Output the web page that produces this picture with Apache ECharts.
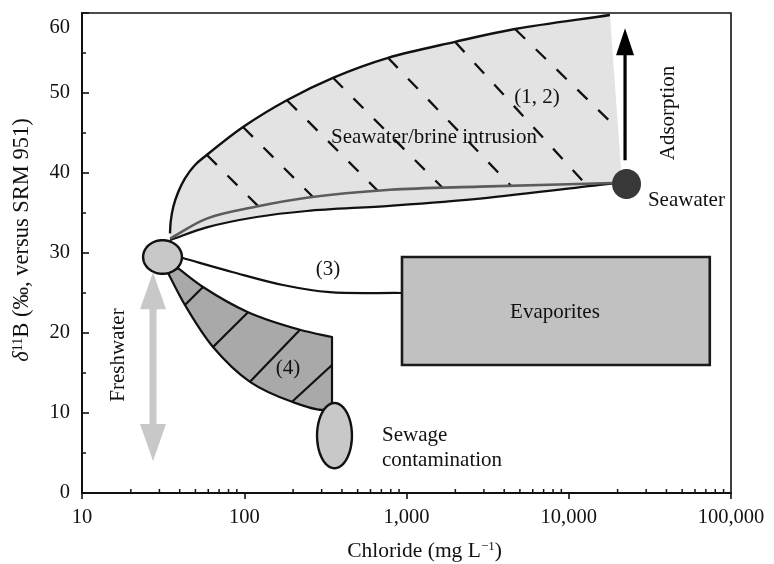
<!DOCTYPE html>
<html>
<head>
<meta charset="utf-8">
<script src="https://cdn.jsdelivr.net/npm/echarts@6/dist/echarts.min.js"></script>
<style>
  html, body { margin: 0; padding: 0; background: #fff; }
  #chart { width: 774px; height: 564px; }
</style>
</head>
<body>
<div id="chart"></div>
<script>
// Axis ticks
const xTicks = [10, 100, 1000, 10000, 100000];
const yTicks = [0, 10, 20, 30, 40, 50, 60];
const xMinorSteps = [2, 3, 4, 5, 6, 7, 8, 9];

// Seawater / brine intrusion envelope (chloride mg/L, d11B permil)
const intrusionUpper = [[34.86, 32.46], [35.21, 33.91], [36.53, 35.79], [39.23, 37.66], [43.13, 39.34],
  [49.72, 41], [58.7, 42.25], [98.3, 45.75], [183, 49.1], [352, 51.9], [769, 54.4], [1990, 56.4],
  [4665, 58], [17950, 59.75]];
const intrusionRightEdge = [21290, 38.75];
const intrusionLower = [[34.9, 31.6], [58.7, 33.2], [119.3, 34.5], [242.6, 35.25], [791, 35.9],
  [2838, 36.8], [18740, 38.7]];
const mixingLine = [[34.9, 31.8], [58.7, 34.3], [119.3, 35.8], [242.6, 36.9], [791, 37.9],
  [2838, 38.3], [18740, 38.75]];
const intrusionHatch = [
  [[58.9, 42.25], [123.3, 35.75]],
  [[98.2, 45.75], [265.3, 37]],
  [[183.4, 49.1], [667.3, 37.75]],
  [[352.4, 51.9], [1679, 38.1]],
  [[769, 54.4], [4406, 38.4]],
  [[1991, 56.4], [12590, 38.7]],
  [[4666, 58], [19830, 45.6]]
];

// Sewage contamination field (4)
const sewageUpper = [[39.06, 28.1], [55.7, 25.75], [105.5, 22.6], [220.6, 20.4], [347.4, 19.5]];
const sewageLower = [[347.4, 11], [305.8, 10.4], [197, 11.4], [108.5, 13.9], [64.2, 18.25], [43.1, 23.5], [33.9, 27.5]];
const sewageHatch = [
  [[43.1, 23.5], [55.7, 25.75]],
  [[64.2, 18.25], [105.5, 22.6]],
  [[108.5, 13.9], [220.6, 20.4]],
  [[197, 11.4], [347.4, 16]]
];

// Evaporite dissolution curve (3) and field
const evaporiteLine = [[41.3, 29.4], [85.3, 27.6], [173, 26], [337, 25.1], [938, 25]];
const evaporiteBox = { x: [938, 74000], y: [16, 29.5] };

// End members
const freshwaterEllipse = { x: [23.8, 41.3], y: [27.4, 31.6] };
const sewageEllipse = { x: [281, 461], y: [3.1, 11.25] };
const seawaterPoint = { x: [18490, 27870], y: [36.75, 40.5] };

// Arrows: [from, to]
const freshwaterArrow = [[27.4, 27.6], [27.4, 4.0]];
const adsorptionArrow = [[22230, 41.6], [22230, 58.1]];

// Annotations: [x, y, text, align, rotated]
const annotations = [
  [1477, 44.5, 'Seawater/brine intrusion', 'center', false],
  [6368, 49.5, '(1, 2)', 'center', false],
  [30760, 36.6, 'Seawater', 'left', false],
  [40920, 47.5, 'Adsorption', 'center', true],
  [328, 27.9, '(3)', 'center', false],
  [8222, 22.6, 'Evaporites', 'center', false],
  [186, 15.6, '(4)', 'center', false],
  [16.7, 17.25, 'Freshwater', 'center', true],
  [706, 7.25, 'Sewage', 'left', false],
  [706, 4.1, 'contamination', 'left', false]
];

const FONT_FAMILY = '"Liberation Serif", "Times New Roman", Times, serif';
const INK = '#111';

function fmt(p) { return p[0].toFixed(2) + ',' + p[1].toFixed(2); }

// Centripetal Catmull-Rom spline through pixel points, as SVG path commands
function smoothPath(pts, start) {
  let d = (start === 'L' ? 'L' : 'M') + fmt(pts[0]);
  const n = pts.length;
  const reflect = (a, b) => [2 * a[0] - b[0], 2 * a[1] - b[1]];
  const dist = (a, b) => Math.max(1e-6, Math.sqrt(Math.hypot(b[0] - a[0], b[1] - a[1])));
  for (let i = 0; i < n - 1; i++) {
    const p1 = pts[i], p2 = pts[i + 1];
    const p0 = i > 0 ? pts[i - 1] : reflect(p1, p2);
    const p3 = i + 2 < n ? pts[i + 2] : reflect(p2, p1);
    const d1 = dist(p0, p1), d2 = dist(p1, p2), d3 = dist(p2, p3);
    const c1 = [0, 1].map(k => (d1 * d1 * p2[k] - d2 * d2 * p0[k] + (2 * d1 * d1 + 3 * d1 * d2 + d2 * d2) * p1[k]) / (3 * d1 * (d1 + d2)));
    const c2 = [0, 1].map(k => (d3 * d3 * p1[k] - d2 * d2 * p3[k] + (2 * d3 * d3 + 3 * d3 * d2 + d2 * d2) * p2[k]) / (3 * d3 * (d3 + d2)));
    d += ' C' + fmt(c1) + ' ' + fmt(c2) + ' ' + fmt(p2);
  }
  return d;
}

function ellipsePolygon(api, box, n) {
  const a = api.coord([box.x[0], box.y[0]]);
  const b = api.coord([box.x[1], box.y[1]]);
  const cx = (a[0] + b[0]) / 2, cy = (a[1] + b[1]) / 2;
  const rx = Math.abs(b[0] - a[0]) / 2, ry = Math.abs(b[1] - a[1]) / 2;
  const pts = [];
  for (let i = 0; i < n; i++) {
    const t = 2 * Math.PI * i / n;
    pts.push([cx + rx * Math.cos(t), cy + ry * Math.sin(t)]);
  }
  return pts;
}

// vertical arrow outline in pixels
function arrowPolygon(from, to, shaftHalf, headHalf, headLen, doubleHead) {
  const x = from[0];
  const dir = Math.sign(to[1] - from[1]);
  const tipB = to[1], headB = to[1] - dir * headLen;
  if (doubleHead) {
    const tipA = from[1], headA = from[1] + dir * headLen;
    return [[x, tipA], [x + headHalf, headA], [x + shaftHalf, headA], [x + shaftHalf, headB],
      [x + headHalf, headB], [x, tipB], [x - headHalf, headB], [x - shaftHalf, headB],
      [x - shaftHalf, headA], [x - headHalf, headA]];
  }
  return [[x - shaftHalf, from[1]], [x + shaftHalf, from[1]], [x + shaftHalf, headB],
    [x + headHalf, headB], [x, tipB], [x - headHalf, headB], [x - shaftHalf, headB]];
}

function layer(name, z, build) {
  return {
    type: 'custom', name: name, coordinateSystem: 'cartesian2d', z: z, silent: true, clip: false,
    data: [[100, 30]],
    renderItem: function (params, api) { return build(api); }
  };
}

const series = [
  // light grey intrusion envelope
  layer('intrusionFill', 1, function (api) {
    const up = intrusionUpper.map(p => api.coord(p));
    const lo = intrusionLower.map(p => api.coord(p)).reverse();
    const edge = api.coord(intrusionRightEdge);
    const d = smoothPath(up) + ' L' + fmt(edge) + ' ' + smoothPath(lo, 'L') + ' Z';
    return { type: 'path', shape: { pathData: d }, style: { fill: '#e3e3e3', stroke: null } };
  }),
  // dashed hatching inside envelope
  layer('intrusionHatch', 2, function (api) {
    return {
      type: 'group',
      children: intrusionHatch.map(function (seg) {
        const a = api.coord(seg[0]), b = api.coord(seg[1]);
        return {
          type: 'line', shape: { x1: a[0], y1: a[1], x2: b[0], y2: b[1] },
          style: { stroke: INK, lineWidth: 2.3, lineDash: [14, 15], lineCap: 'butt' }
        };
      })
    };
  }),
  // envelope boundaries and mixing line
  layer('intrusionLines', 3, function (api) {
    const up = intrusionUpper.map(p => api.coord(p));
    const lo = intrusionLower.map(p => api.coord(p));
    const mix = mixingLine.map(p => api.coord(p));
    return {
      type: 'group',
      children: [
        { type: 'path', shape: { pathData: smoothPath(lo) }, style: { fill: null, stroke: INK, lineWidth: 2.2 } },
        { type: 'path', shape: { pathData: smoothPath(mix) }, style: { fill: null, stroke: '#5c5c5c', lineWidth: 2.6 } },
        { type: 'path', shape: { pathData: smoothPath(up) }, style: { fill: null, stroke: INK, lineWidth: 2.4 } }
      ]
    };
  }),
  // sewage field (4)
  layer('sewageField', 3, function (api) {
    const up = sewageUpper.map(p => api.coord(p));
    const lo = sewageLower.map(p => api.coord(p));
    const d = smoothPath(up) + ' ' + smoothPath(lo, 'L') + ' Z';
    const children = [
      { type: 'path', shape: { pathData: d }, style: { fill: '#a9a9a9', stroke: INK, lineWidth: 2.2, lineJoin: 'round' } }
    ];
    sewageHatch.forEach(function (seg) {
      const a = api.coord(seg[0]), b = api.coord(seg[1]);
      children.push({ type: 'line', shape: { x1: a[0], y1: a[1], x2: b[0], y2: b[1] }, style: { stroke: INK, lineWidth: 2.2 } });
    });
    return { type: 'group', children: children };
  }),
  // evaporite curve (3)
  layer('evaporiteLine', 3, function (api) {
    const pts = evaporiteLine.map(p => api.coord(p));
    return { type: 'path', shape: { pathData: smoothPath(pts) }, style: { fill: null, stroke: INK, lineWidth: 2.2 } };
  }),
  // evaporite box
  layer('evaporiteBox', 4, function (api) {
    const a = api.coord([evaporiteBox.x[0], evaporiteBox.y[1]]);
    const b = api.coord([evaporiteBox.x[1], evaporiteBox.y[0]]);
    return {
      type: 'rect', shape: { x: a[0], y: a[1], width: b[0] - a[0], height: b[1] - a[1] },
      style: { fill: '#c1c1c1', stroke: '#1a1a1a', lineWidth: 2.6 }
    };
  }),
  // end members
  layer('endMembers', 5, function (api) {
    return {
      type: 'group',
      children: [
        { type: 'polygon', shape: { points: ellipsePolygon(api, freshwaterEllipse, 72) }, style: { fill: '#c8c8c8', stroke: INK, lineWidth: 2.4 } },
        { type: 'polygon', shape: { points: ellipsePolygon(api, sewageEllipse, 72) }, style: { fill: '#c8c8c8', stroke: INK, lineWidth: 2.4 } },
        { type: 'polygon', shape: { points: ellipsePolygon(api, seawaterPoint, 72) }, style: { fill: '#383838', stroke: null } }
      ]
    };
  }),
  // arrows
  layer('arrows', 5, function (api) {
    const f0 = api.coord(freshwaterArrow[0]), f1 = api.coord(freshwaterArrow[1]);
    const a0 = api.coord(adsorptionArrow[0]), a1 = api.coord(adsorptionArrow[1]);
    return {
      type: 'group',
      children: [
        { type: 'polygon', shape: { points: arrowPolygon(f0, f1, 3.5, 13, 37, true) }, style: { fill: '#c8c8c8', stroke: null } },
        { type: 'polygon', shape: { points: arrowPolygon(a0, a1, 1.6, 9, 27, false) }, style: { fill: '#000', stroke: null } }
      ]
    };
  }),
  // text annotations
  layer('annotations', 6, function (api) {
    return {
      type: 'group',
      children: annotations.map(function (t) {
        const p = api.coord([t[0], t[1]]);
        return {
          type: 'text', x: p[0], y: p[1], rotation: t[4] ? Math.PI / 2 : 0,
          style: {
            text: t[2], fill: INK, font: '21px ' + FONT_FAMILY,
            align: t[3], verticalAlign: 'middle', textAlign: t[3], textVerticalAlign: 'middle'
          }
        };
      })
    };
  }),
  // logarithmic minor ticks on the chloride axis
  layer('xMinorTicks', 6, function (api) {
    const children = [];
    xTicks.slice(0, -1).forEach(function (decade) {
      xMinorSteps.forEach(function (s) {
        const p = api.coord([decade * s, 0]);
        children.push({ type: 'line', shape: { x1: p[0], y1: p[1], x2: p[0], y2: p[1] - 4 }, style: { stroke: INK, lineWidth: 1.5 } });
      });
    });
    return { type: 'group', children: children };
  })
];

const option = {
  animation: false,
  backgroundColor: '#fff',
  grid: {
    left: 82, right: 43, top: 13, bottom: 71, outerBoundsMode: 'none', containLabel: false,
    show: true, borderColor: INK, borderWidth: 1.6, backgroundColor: 'transparent'
  },
  xAxis: {
    type: 'log', logBase: 10, min: xTicks[0], max: xTicks[xTicks.length - 1],
    splitLine: { show: false },
    axisLine: { show: true, lineStyle: { color: INK, width: 2 } },
    axisTick: { show: true, inside: false, length: 6, lineStyle: { color: INK, width: 1.6 } },
    minorTick: { show: false },
    axisLabel: {
      color: INK, fontFamily: FONT_FAMILY, fontSize: 20.5, margin: 14,
      formatter: function (v) { return Number(v).toLocaleString('en-US'); }
    },
    name: 'Chloride (mg L{sup|\u22121})',
    nameLocation: 'middle', nameGap: 47,
    nameTextStyle: {
      color: INK, fontFamily: FONT_FAMILY, fontSize: 21.5, padding: [0, 0, 0, 36],
      rich: { sup: { fontSize: 13, fontFamily: FONT_FAMILY, color: INK, verticalAlign: 'top', padding: [0, 0, 9, 0] } }
    }
  },
  yAxis: {
    type: 'value', min: yTicks[0], max: yTicks[yTicks.length - 1], interval: 10,
    splitLine: { show: false },
    axisLine: { show: true, lineStyle: { color: INK, width: 2 } },
    axisTick: { show: true, inside: true, length: 7, lineStyle: { color: INK, width: 1.6 } },
    minorTick: { show: true, splitNumber: 2, length: 4, lineStyle: { color: INK, width: 1.5 } },
    axisLabel: {
      color: INK, fontFamily: FONT_FAMILY, fontSize: 20.5, margin: 12, lineHeight: 30,
      formatter: function (v) { return v === 60 ? '\n60' : String(v); }
    },
    name: '{it|\u03b4}{sup|11}B (\u2030, versus SRM 951)',
    nameLocation: 'middle', nameGap: 48, nameRotate: 90,
    nameTextStyle: {
      color: INK, fontFamily: FONT_FAMILY, fontSize: 22.5, padding: [0, 0, 0, 26],
      rich: {
        it: { fontStyle: 'italic', fontSize: 22.5, fontFamily: FONT_FAMILY, color: INK },
        sup: { fontSize: 14, fontFamily: FONT_FAMILY, color: INK, verticalAlign: 'top', padding: [0, 0, 9, 0] }
      }
    }
  },
  series: series
};

const chart = echarts.init(document.getElementById('chart'));
chart.setOption(option);
</script>
</body>
</html>
